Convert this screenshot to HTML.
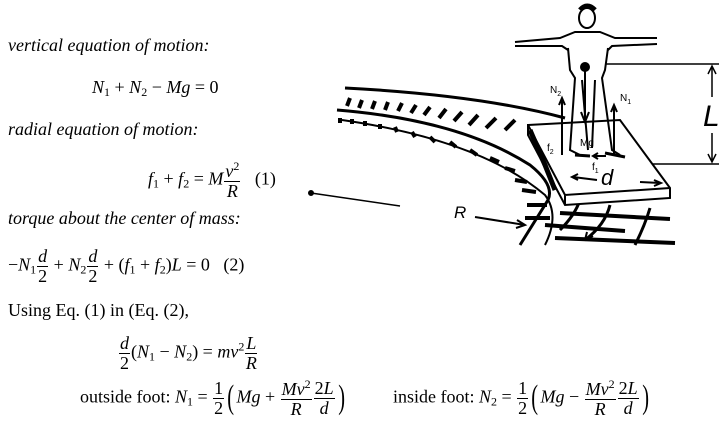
<!DOCTYPE html>
<html><head><meta charset="utf-8"><style>
body{margin:0;width:726px;height:437px;background:#fff;position:relative;overflow:hidden;font-family:"Liberation Serif",serif;font-size:18px;color:#000}
.t{position:absolute;white-space:nowrap;line-height:1}
i{font-style:italic}
sub{font-size:12px;vertical-align:-3px}
sup{font-size:12px;vertical-align:7px}
.fr{display:inline-block;vertical-align:middle;text-align:center;margin:0 1px}
.fr span{display:block;line-height:1.05}
.fr .n{border-bottom:1px solid #000;padding:0 1px}
.p{font-size:34px;font-weight:100;vertical-align:middle;transform:scaleX(.6);display:inline-block}
</style></head><body>
<svg width="726" height="437" style="position:absolute;left:0;top:0" fill="none" stroke="#000" stroke-width="2">
<path d="M345 88 Q480 95 565 118" stroke-width="3"/>
<path d="M337 110 Q460 120 530 165 Q555 185 548 200 L520 245" stroke-width="3"/>
<path d="M342 120 Q480 140 545 195 Q560 215 545 245" stroke-width="2"/>
<g stroke-width="4">
<path d="M350 98 l-3 8 M362 100 l-3 8 M375 101 l-3 8 M388 102 l-3 8 M402 103 l-4 8 M416 105 l-5 8 M430 107 l-6 8 M446 109 l-7 9 M462 112 l-8 9 M478 115 l-9 10 M496 118 l-10 10 M515 120 l-10 10"/>
<path d="M340 118 l0 5 M352 119 l0 5 M365 121 l0 5 M380 124 l0 5 M395 127 l2 5 M412 132 l3 5 M430 137 l5 5 M450 142 l6 5 M470 150 l7 5 M490 158 l9 4 M505 168 l10 3 M515 180 l12 2 M522 190 l14 2"/>
<path d="M527 205 l20 0 M525 218 l25 0 M545 225 l80 6 M555 238 l120 5 M560 213 l110 6"/>
</g>
<path d="M560 230 Q575 215 580 200" stroke-width="3"/>
<path d="M610 205 Q605 225 585 240" stroke-width="3"/>
<path d="M650 208 Q645 225 635 245" stroke-width="3"/>
<path d="M585 240 l2 -8 M585 240 l8 -4"/>
<path d="M528 125 L620 120 L670 188 L670 198 L565 205 L528 135 Z" fill="#fff"/>
<path d="M528 125 L565 195 L670 188 M565 195 L565 205"/>
<path d="M530 130 L545 165 L555 190" stroke-width="5"/>
<ellipse cx="587" cy="18" rx="8" ry="10" fill="#fff"/>
<path d="M580 10 Q587 2 595 10" stroke-width="5"/>
<path d="M515 42 L560 38 L575 32 L600 32 L615 38 L657 38 M515 46 L562 46 L568 50 M657 44 L612 46 L608 50"/>
<path d="M568 48 L570 70 L575 78 L570 150 L580 155 M608 48 L605 70 L602 78 L612 150 L620 155 M582 80 L588 150 M595 80 L592 148"/>
<path d="M575 155 L590 156 M605 153 L625 157" stroke-width="3"/>
<circle cx="585" cy="67" r="4" fill="#000"/>
<path d="M585 70 L585 120 M581 112 l4 10 l4 -10" />
<path d="M562 155 L562 100 M559 105 l3 -7 l3 7 M614 155 L614 107 M611 112 l3 -7 l3 7"/>
<path d="M606 156 L594 156 M598 153 l-5 3 l5 3"/>
<path d="M605 64 L719 64 M652 164 L719 164 M712 66 L712 97 M712 133 L712 162 M708 74 l4 -8 l4 8 M708 154 l4 8 l4 -8" stroke-width="1.5"/>
<path d="M573 177 L597 180 M640 182 L660 183 M578 174 l-6 3 l6 3 M654 180 l7 3 l-7 3" stroke-width="2"/>
<path d="M475 217 L525 225 M517 220 l8 5 l-9 3" stroke-width="2"/>
<circle cx="311" cy="193" r="2" fill="#000"/>
<path d="M311 193 L400 206" stroke-width="1.5"/>
</svg>
<div class="t" style="left:703px;top:100px;font:italic 30px 'Liberation Sans',sans-serif">L</div>
<div class="t" style="left:601px;top:165px;font:italic 22px 'Liberation Sans',sans-serif">d</div>
<div class="t" style="left:454px;top:203px;font:italic 17px 'Liberation Sans',sans-serif">R</div>
<div class="t" style="left:550px;top:85px;font:10px 'Liberation Sans',sans-serif">N<sub style="font-size:7px">2</sub></div>
<div class="t" style="left:620px;top:93px;font:10px 'Liberation Sans',sans-serif">N<sub style="font-size:7px">1</sub></div>
<div class="t" style="left:547px;top:143px;font:10px 'Liberation Sans',sans-serif">f<sub style="font-size:7px">2</sub></div>
<div class="t" style="left:580px;top:138px;font:10px 'Liberation Sans',sans-serif">Mg</div>
<div class="t" style="left:592px;top:162px;font:10px 'Liberation Sans',sans-serif">f<sub style="font-size:7px">1</sub></div>

<div class="t" style="left:8px;top:36px"><i>vertical equation of motion:</i></div>
<div class="t" style="left:92px;top:78px"><i>N</i><sub>1</sub> + <i>N</i><sub>2</sub> − <i>Mg</i> = 0</div>
<div class="t" style="left:8px;top:120px"><i>radial equation of motion:</i></div>
<div class="t" style="left:148px;top:160px"><i>f</i><sub>1</sub> + <i>f</i><sub>2</sub> = <i>M</i><span class="fr"><span class="n"><i>v</i><sup>2</sup></span><span><i>R</i></span></span> &nbsp;&nbsp;(1)</div>
<div class="t" style="left:8px;top:209px"><i>torque about the center of mass:</i></div>
<div class="t" style="left:8px;top:247px">−<i>N</i><sub>1</sub><span class="fr"><span class="n"><i>d</i></span><span>2</span></span> + <i>N</i><sub>2</sub><span class="fr"><span class="n"><i>d</i></span><span>2</span></span> + (<i>f</i><sub>1</sub> + <i>f</i><sub>2</sub>)<i>L</i> = 0 &nbsp;&nbsp;(2)</div>
<div class="t" style="left:8px;top:301px">Using Eq. (1) in (Eq. (2),</div>
<div class="t" style="left:118px;top:334px"><span class="fr"><span class="n"><i>d</i></span><span>2</span></span>(<i>N</i><sub>1</sub> − <i>N</i><sub>2</sub>) = <i>mv</i><sup>2</sup><span class="fr"><span class="n"><i>L</i></span><span><i>R</i></span></span></div>
<div class="t" style="left:80px;top:378px">outside foot: <i>N</i><sub>1</sub> = <span class="fr"><span class="n">1</span><span>2</span></span><span class="p">(</span><i>Mg</i> + <span class="fr"><span class="n"><i>Mv</i><sup>2</sup></span><span><i>R</i></span></span><span class="fr"><span class="n">2<i>L</i></span><span><i>d</i></span></span><span class="p">)</span></div>
<div class="t" style="left:393px;top:378px">inside foot: <i>N</i><sub>2</sub> = <span class="fr"><span class="n">1</span><span>2</span></span><span class="p">(</span><i>Mg</i> − <span class="fr"><span class="n"><i>Mv</i><sup>2</sup></span><span><i>R</i></span></span><span class="fr"><span class="n">2<i>L</i></span><span><i>d</i></span></span><span class="p">)</span></div>
</body></html>
